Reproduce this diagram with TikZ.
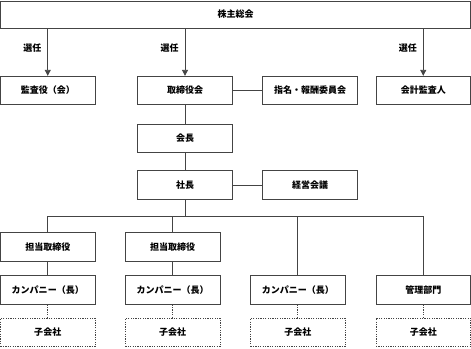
\documentclass[tikz,border=0pt]{standalone}
\usepackage{fontspec}
\newfontfamily\jp{Noto Sans CJK JP}
\usetikzlibrary{arrows.meta}
\definecolor{ln}{HTML}{444444}
\begin{document}
\begin{tikzpicture}[x=1pt,y=-1pt,
  box/.style={draw=ln,line width=0.8pt,minimum width=94.5pt,minimum height=28.5pt,inner sep=0pt,font=\jp\bfseries\fontsize{9}{10}\selectfont},
  dbox/.style={box,dash pattern=on 1.2pt off 1.2pt},
  con/.style={draw=ln,line width=0.8pt},
  dcon/.style={con,dash pattern=on 1.2pt off 1.2pt},
  arr/.style={con,-{Triangle[length=6pt,width=6pt]}},
  lab/.style={font=\jp\bfseries\fontsize{9}{10}\selectfont,inner sep=0pt}]
\useasboundingbox (0,0) rectangle (471,348);
\node[box,minimum width=469.5pt,minimum height=27pt] (top) at (235.5,14.5) {株主総会};
\node[box] (kansa) at (47.75,90.5) {監査役（会）};
\node[box] (tori) at (185,90.5) {取締役会};
\node[box] (shimei) at (310,90.5) {指名・報酬委員会};
\node[box] (kaikei) at (423.25,90.5) {会計監査人};
\node[box] (kaicho) at (185,138.5) {会長};
\node[box] (shacho) at (185,185) {社長};
\node[box] (keiei) at (310,185) {経営会議};
\coordinate (bus) at (0,216.7);
\node[box] (t1) at (47.75,247) {担当取締役};
\node[box] (t2) at (172.7,247) {担当取締役};
\node[box] (c1) at (47.75,290) {カンパニー（長）};
\node[box] (c2) at (172.7,290) {カンパニー（長）};
\node[box] (c3) at (297.8,290) {カンパニー（長）};
\node[box] (c4) at (423.25,290) {管理部門};
\node[dbox] (s1) at (47.75,332.5) {子会社};
\node[dbox] (s2) at (172.7,332.5) {子会社};
\node[dbox] (s3) at (297.8,332.5) {子会社};
\node[dbox] (s4) at (423.25,332.5) {子会社};
\draw[arr] (top.south -| kansa.north) -- node[lab,pos=0.42,left=6pt] {選任} (kansa.north);
\draw[arr] (top.south -| tori.north) -- node[lab,pos=0.42,left=6pt] {選任} (tori.north);
\draw[arr] (top.south -| kaikei.north) -- node[lab,pos=0.42,left=6pt] {選任} (kaikei.north);
\draw[con] (tori.east) -- (shimei.west);
\draw[con] (tori.south) -- (kaicho.north);
\draw[con] (kaicho.south) -- (shacho.north);
\draw[con] (shacho.east) -- (keiei.west);
\draw[con] (shacho.south) -- (shacho.south |- bus);
\draw[con] (t1.north) -- (t1.north |- bus) -| (c4.north);
\draw[con] (t2.north) -- (t2.north |- bus);
\draw[con] (c3.north) -- (c3.north |- bus);
\draw[con] (t1.south) -- (c1.north);
\draw[con] (t2.south) -- (c2.north);
\draw[dcon] (c1.south) -- (s1.north);
\draw[dcon] (c2.south) -- (s2.north);
\draw[dcon] (c3.south) -- (s3.north);
\draw[dcon] (c4.south) -- (s4.north);
\end{tikzpicture}
\end{document}
